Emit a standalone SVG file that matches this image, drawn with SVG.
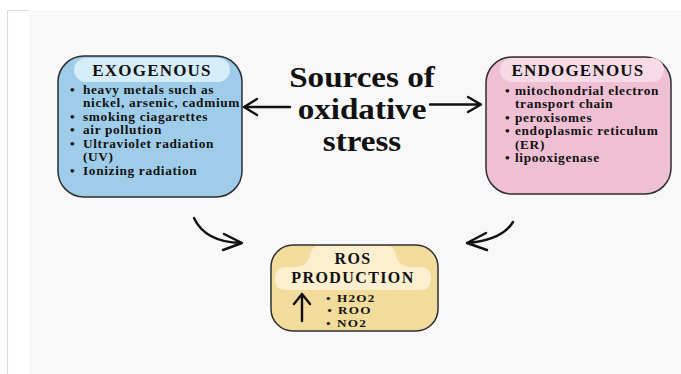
<svg xmlns="http://www.w3.org/2000/svg" width="681" height="374" viewBox="0 0 681 374">
<style>
.box{stroke:#2e2e2e;stroke-width:1.5}
.t{font-family:"Liberation Serif","Times New Roman",serif;font-weight:bold;fill:#111}
.h{font-size:17px;text-anchor:middle;letter-spacing:1.2px}
.hr{font-size:16px;text-anchor:middle;letter-spacing:1.4px}
.b{font-size:12px;letter-spacing:0.6px}
.s{font-size:11px;letter-spacing:1px}
.big{font-size:28.8px;text-anchor:middle}
.arr{fill:none;stroke:#111;stroke-width:2.4;stroke-linecap:round;stroke-linejoin:round}
</style>
<rect width="681" height="374" fill="#ffffff"/>
<rect x="29" y="10" width="652" height="364" fill="#f8f8f8"/>
<path d="M7.5 374 V10.5 H29" fill="none" stroke="#dcdcdc" stroke-width="1.2"/>

<g id="exogenous">
<rect class="box" x="58" y="56" width="184" height="141" rx="26" fill="#9fcde9"/>
<rect x="74" y="58" width="156" height="24" rx="12" fill="#d5ecf9"/>
<text class="t h" x="152" y="76">EXOGENOUS</text>
<g class="t b" transform="translate(70 0) scale(1.11 1)">
<text x="0" y="94">•</text><text x="11.7" y="94">heavy metals such as</text>
<text x="11.7" y="107.3">nickel, arsenic, cadmium</text>
<text x="0" y="121">•</text><text x="11.7" y="121">smoking ciagarettes</text>
<text x="0" y="134.5">•</text><text x="11.7" y="134.5">air pollution</text>
<text x="0" y="148">•</text><text x="11.7" y="148">Ultraviolet radiation</text>
<text x="11.7" y="161.5">(UV)</text>
<text x="0" y="175">•</text><text x="11.7" y="175">Ionizing radiation</text>
</g>
</g>

<g id="endogenous">
<rect class="box" x="486" y="57" width="185" height="137" rx="26" fill="#efbfd3"/>
<rect x="500" y="58" width="164" height="24" rx="12" fill="#f6dbe7"/>
<text class="t h" x="578" y="76">ENDOGENOUS</text>
<g class="t b" transform="translate(505 0) scale(1.11 1)">
<text x="0" y="95">•</text><text x="9" y="95">mitochondrial electron</text>
<text x="9" y="108.5">transport chain</text>
<text x="0" y="122">•</text><text x="9" y="122">peroxisomes</text>
<text x="0" y="135.5">•</text><text x="9" y="135.5">endoplasmic reticulum</text>
<text x="9" y="149">(ER)</text>
<text x="0" y="162.5">•</text><text x="9" y="162.5">lipooxigenase</text>
</g>
</g>

<g id="title" class="t big" transform="translate(362 0) scale(1.15 1)">
<text x="0" y="87">Sources of</text>
<text x="0" y="119">oxidative</text>
<text x="0" y="151">stress</text>
</g>

<g id="ros">
<rect class="box" x="271" y="245" width="167" height="86" rx="22" fill="#f2dc9c"/>
<path d="M318 246 H387 Q394 246 396 255 Q398 266 410 267 H420 Q431 267 431 278.5 Q431 290 420 290 H286 Q275 290 275 278.5 Q275 267 286 267 H296 Q308 266 310 255 Q312 246 318 246 Z" fill="#fbefcf"/>
<text class="t hr" x="353" y="264">ROS</text>
<text class="t hr" x="353" y="283">PRODUCTION</text>
<g class="t s" transform="translate(326 0) scale(1.2 1)">
<text x="0" y="302">•</text><text x="9.2" y="302">H2O2</text>
<text x="1" y="314.5">•</text><text x="10" y="314.5">ROO</text>
<text x="0" y="327">•</text><text x="9.2" y="327">NO2</text>
</g>
<path class="arr" d="M302 321 V294 M294 304 L302 294 L310 304"/>
</g>

<g id="connectors">
<path class="arr" d="M290 107 H245 M257 99 L244 107 L257 115"/>
<path class="arr" d="M430 104.5 H480 M468 97 L481 104.5 L468 112"/>
<path class="arr" d="M194 218 Q205 242 241 243 M224 234 L242 243 L223 250"/>
<path class="arr" d="M513 222 Q502 240 467 243 M486 233 L467 243 L487 250"/>
</g>
</svg>
